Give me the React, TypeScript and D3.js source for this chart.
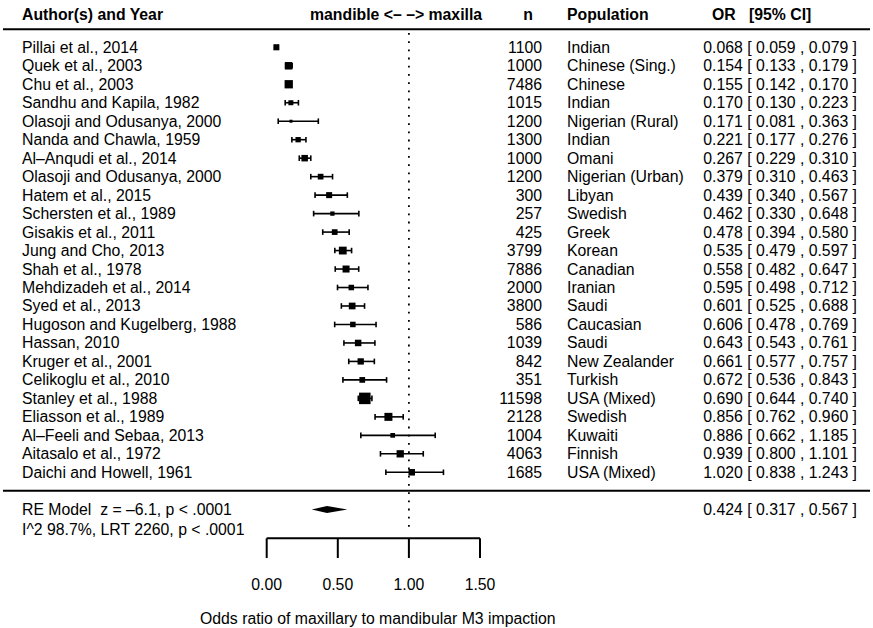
import React from "react";
import * as d3 from "d3";

const authors = [
  "Pillai et al., 2014",
  "Quek et al., 2003",
  "Chu et al., 2003",
  "Sandhu and Kapila, 1982",
  "Olasoji and Odusanya, 2000",
  "Nanda and Chawla, 1959",
  "Al\u2013Anqudi et al., 2014",
  "Olasoji and Odusanya, 2000",
  "Hatem et al., 2015",
  "Schersten et al., 1989",
  "Gisakis et al., 2011",
  "Jung and Cho, 2013",
  "Shah et al., 1978",
  "Mehdizadeh et al., 2014",
  "Syed et al., 2013",
  "Hugoson and Kugelberg, 1988",
  "Hassan, 2010",
  "Kruger et al., 2001",
  "Celikoglu et al., 2010",
  "Stanley et al., 1988",
  "Eliasson et al., 1989",
  "Al\u2013Feeli and Sebaa, 2013",
  "Aitasalo et al., 1972",
  "Daichi and Howell, 1961",
];

const sampleN = [1100, 1000, 7486, 1015, 1200, 1300, 1000, 1200, 300, 257, 425, 3799, 7886, 2000, 3800, 586, 1039, 842, 351, 11598, 2128, 1004, 4063, 1685];

const populations = [
  "Indian", "Chinese (Sing.)", "Chinese", "Indian", "Nigerian (Rural)", "Indian", "Omani",
  "Nigerian (Urban)", "Libyan", "Swedish", "Greek", "Korean", "Canadian", "Iranian", "Saudi",
  "Caucasian", "Saudi", "New Zealander", "Turkish", "USA (Mixed)", "Swedish", "Kuwaiti",
  "Finnish", "USA (Mixed)",
];

const oddsRatios = [0.068, 0.154, 0.155, 0.170, 0.171, 0.221, 0.267, 0.379, 0.439, 0.462, 0.478, 0.535, 0.558, 0.595, 0.601, 0.606, 0.643, 0.661, 0.672, 0.690, 0.856, 0.886, 0.939, 1.020];
const ciLower = [0.059, 0.133, 0.142, 0.130, 0.081, 0.177, 0.229, 0.310, 0.340, 0.330, 0.394, 0.479, 0.482, 0.498, 0.525, 0.478, 0.543, 0.577, 0.536, 0.644, 0.762, 0.662, 0.800, 0.838];
const ciUpper = [0.079, 0.179, 0.170, 0.223, 0.363, 0.276, 0.310, 0.463, 0.567, 0.648, 0.580, 0.597, 0.647, 0.712, 0.688, 0.769, 0.761, 0.757, 0.843, 0.740, 0.960, 1.185, 1.101, 1.243];
// relative study weights (visual marker size)
const weights = [6.0, 7.5, 8.3, 5.0, 3.0, 5.3, 6.5, 5.7, 6.0, 4.3, 5.7, 7.8, 7.0, 5.5, 6.7, 5.5, 6.5, 6.3, 5.7, 11.5, 8.0, 4.7, 7.3, 6.5];

const summary = { or: 0.424, lo: 0.317, hi: 0.567 };
const summaryLabel = "RE Model  z = \u20136.1, p < .0001";
const hetLabel = "I^2 98.7%, LRT 2260, p < .0001";

const xTicks = [0, 0.5, 1.0, 1.5];

const W = 873;
const H = 628;
const FONT = "'Liberation Sans', Arial, Helvetica, sans-serif";
const FS = 15.8;

export default function App() {
  const x = d3.scaleLinear().domain([0, 1.5]).range([266.7, 480]);
  const y = d3.scaleLinear().domain([0, authors.length - 1]).range([47.3, 472.3]);
  const size = d3.scaleLinear().domain([0, d3.max(weights) as number]).range([0, 11.5]);
  const fmt = d3.format(".3f");
  const ciText = (o: number, l: number, h: number) => `${fmt(o)} [ ${fmt(l)} , ${fmt(h)} ]`;

  const sepY = 490.7;
  const reY = 509.5;
  const hetY = 529.5;
  const axisY = 538.3;
  const capH = 2.8;

  return (
    <svg
      width={W}
      height={H}
      style={{ position: "absolute", left: 0, top: 0, background: "#fff" }}
      fontFamily={FONT}
      fontSize={FS}
    >
      <rect x={0} y={0} width={W} height={H} fill="#fff" />
      {/* headers */}
      <g fontWeight="bold" fill="#000">
        <text x={22} y={20}>Author(s) and Year</text>
        <text x={310} y={20}>{"mandible <\u2013 \u2013> maxilla"}</text>
        <text x={533} y={20} textAnchor="end">n</text>
        <text x={567} y={20}>Population</text>
        <text x={712} y={20}>OR</text>
        <text x={749} y={20}>[95% CI]</text>
      </g>
      <line x1={3} x2={870} y1={29.3} y2={29.3} stroke="#000" strokeWidth={2} />
      <line x1={3} x2={870} y1={sepY} y2={sepY} stroke="#000" strokeWidth={2} />

      {/* reference line at 1 */}
      <line
        x1={x(1)}
        x2={x(1)}
        y1={33}
        y2={533}
        stroke="#000"
        strokeWidth={1.8}
        strokeDasharray="1.8 6.4"
      />

      {/* rows */}
      {authors.map((a, i) => {
        const cy = y(i);
        const s = size(weights[i]);
        return (
          <g key={i}>
            <text x={22} y={cy + 5.5}>{a}</text>
            <text x={542} y={cy + 5.5} textAnchor="end">{sampleN[i]}</text>
            <text x={567} y={cy + 5.5}>{populations[i]}</text>
            <text x={703.3} y={cy + 5.5}>{ciText(oddsRatios[i], ciLower[i], ciUpper[i])}</text>
            <line x1={x(ciLower[i])} x2={x(ciUpper[i])} y1={cy} y2={cy} stroke="#000" strokeWidth={1.6} />
            <line x1={x(ciLower[i])} x2={x(ciLower[i])} y1={cy - capH} y2={cy + capH} stroke="#000" strokeWidth={1.6} />
            <line x1={x(ciUpper[i])} x2={x(ciUpper[i])} y1={cy - capH} y2={cy + capH} stroke="#000" strokeWidth={1.6} />
            <rect x={x(oddsRatios[i]) - s / 2} y={cy - s / 2} width={s} height={s} fill="#000" />
          </g>
        );
      })}

      {/* summary */}
      <text x={22} y={reY + 5.5} style={{ whiteSpace: "pre" }}>{summaryLabel}</text>
      <text x={22} y={hetY + 5.5}>{hetLabel}</text>
      <text x={703.3} y={reY + 5.5}>{ciText(summary.or, summary.lo, summary.hi)}</text>
      <polygon
        points={[
          [x(summary.lo), reY],
          [x(summary.or), reY - 3.6],
          [x(summary.hi), reY],
          [x(summary.or), reY + 3.6],
        ]
          .map((p) => p.join(","))
          .join(" ")}
        fill="#000"
      />

      {/* axis */}
      <line x1={x(0)} x2={x(1.5)} y1={axisY} y2={axisY} stroke="#000" strokeWidth={2} />
      {xTicks.map((t) => (
        <g key={t}>
          <line x1={x(t)} x2={x(t)} y1={axisY} y2={558} stroke="#000" strokeWidth={2} />
          <text x={x(t)} y={590} textAnchor="middle">{d3.format(".2f")(t)}</text>
        </g>
      ))}
      <text x={200} y={624}>Odds ratio of maxillary to mandibular M3 impaction</text>
    </svg>
  );
}
